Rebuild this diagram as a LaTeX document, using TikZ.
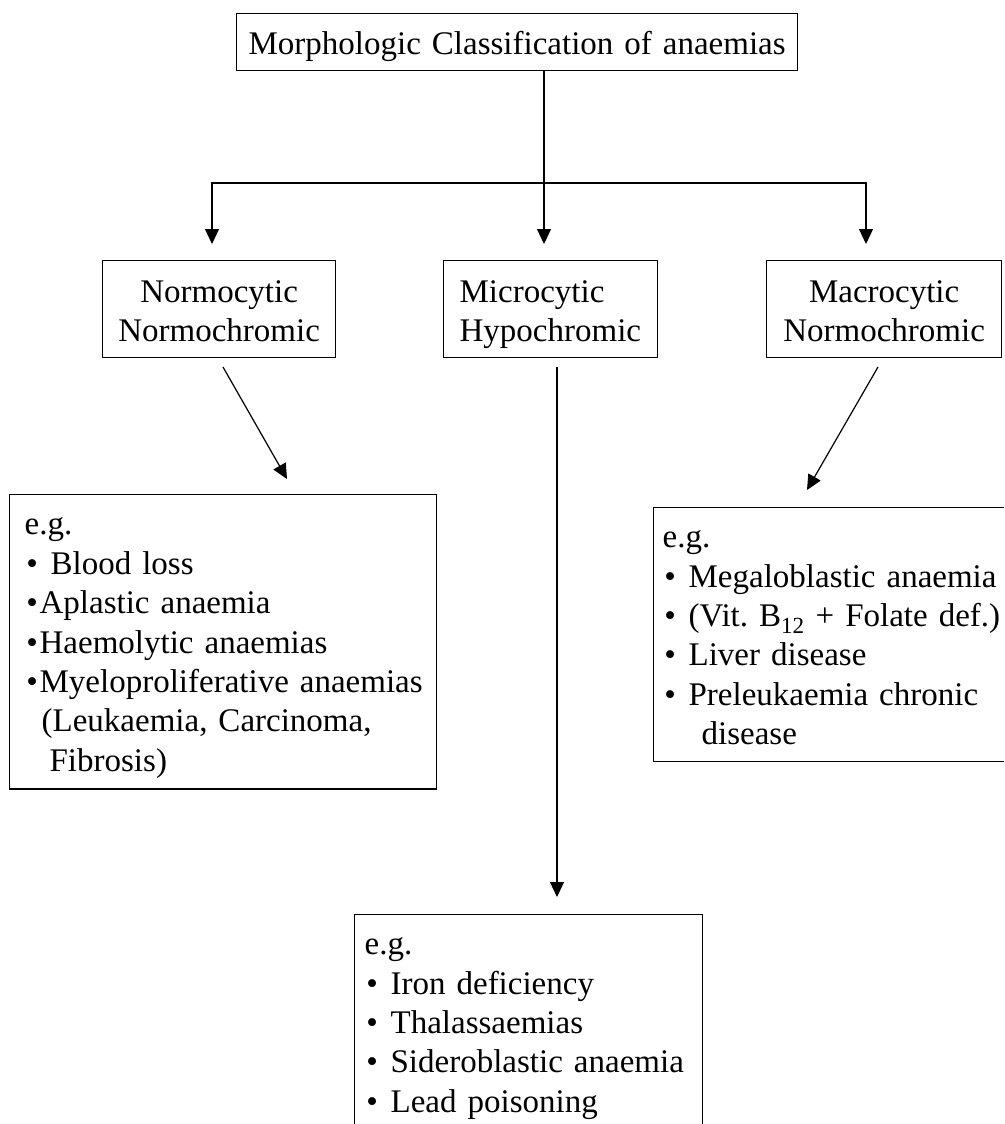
\documentclass[tikz,border=0pt]{standalone}
\usepackage{fontspec}
\setmainfont{Liberation Serif}
\usetikzlibrary{arrows.meta}
% bullet set in a fixed-width slot
\newcommand{\bul}{\makebox[15pt][c]{•}}
\begin{document}
\frenchspacing
\begin{tikzpicture}[x=1pt,y=-1pt,
  box/.style={draw, line width=1.3pt, inner ysep=0pt, anchor=north west,
    font=\fontsize{33}{39.4}\selectfont},
  headbox/.style={box, inner xsep=0pt, align=center,
    font=\fontsize{33}{38.5}\selectfont},
  listbox/.style={box, align=left},
  arr/.style={line width=1.2pt, -{Triangle[length=15pt,width=14pt]}}
]
\useasboundingbox (0,0) rectangle (1004,1124);
\clip (0,0) rectangle (1004,1124);

% title
\node[box, inner xsep=0pt, text width=561pt, align=center] (title) at (236,13)
  {\rule{0pt}{41.3pt}Morphologic Classification of anaemias\rule[-15.7pt]{0pt}{15.7pt}};

% the three classes
\node[headbox, text width=233pt] (normo) at (102,260)
  {\rule{0pt}{42pt}Normocytic\\Normochromic\rule[-16.5pt]{0pt}{16.5pt}};
\node[headbox, align=left, inner xsep=16pt, text width=182pt] (micro) at (443,260)
  {\rule{0pt}{42pt}Microcytic\\\mbox{Hypochromic}\rule[-16.5pt]{0pt}{16.5pt}};
\node[headbox, text width=235pt] (macro) at (766,260)
  {\rule{0pt}{42pt}Macrocytic\\Normochromic\rule[-16.5pt]{0pt}{16.5pt}};

% examples
\node[listbox, inner xsep=15pt, text width=397pt] (normolist) at (9,494)
  {\rule{0pt}{40.3pt}e.g.\\
   \mbox{\bul{} Blood loss}\\
   \mbox{\bul Aplastic anaemia}\\
   \mbox{\bul Haemolytic anaemias}\\
   \mbox{\bul Myeloproliferative anaemias}\\
   \mbox{\hspace*{17pt}(Leukaemia, Carcinoma,}\\
   \mbox{\hspace*{25pt}Fibrosis)}\rule[-17.6pt]{0pt}{17.6pt}};
\node[listbox, inner xsep=9pt, text width=360pt] (macrolist) at (653,507)
  {\rule{0pt}{40pt}e.g.\\
   \mbox{\bul{} Megaloblastic anaemia}\\
   \mbox{\bul{} (Vit. B\textsubscript{12} + Folate def.)}\\
   \mbox{\bul{} Liver disease}\\
   \mbox{\bul{} Preleukaemia chronic}\\
   \mbox{\hspace*{39pt}disease}\rule[-17pt]{0pt}{17pt}};
\node[listbox, inner xsep=10pt, text width=328pt] (microlist) at (354,914)
  {\rule{0pt}{40pt}e.g.\\
   \mbox{\bul{} Iron deficiency}\\
   \mbox{\bul{} Thalassaemias}\\
   \mbox{\bul{} Sideroblastic anaemia}\\
   \mbox{\bul{} Lead poisoning}\rule[-40pt]{0pt}{40pt}};

% branching from the title
\coordinate (fork) at (544,183);
\coordinate (tipL) at (212,244);
\coordinate (tipM) at (544,244);
\coordinate (tipR) at (866,244);
\draw[arr] (title.south -| fork) -- (tipM);
\draw[arr] (fork) -| (tipL);
\draw[arr] (fork) -| (tipR);

% from each class to its examples
\coordinate (normoA) at (223,367);
\coordinate (normoB) at (287,479);
\coordinate (microA) at (557,367);
\coordinate (microB) at (557,897);
\coordinate (macroA) at (878,367);
\coordinate (macroB) at (807,490);
\draw[arr] (normoA) -- (normoB);
\draw[arr] (microA) -- (microB);
\draw[arr] (macroA) -- (macroB);
\end{tikzpicture}
\end{document}
